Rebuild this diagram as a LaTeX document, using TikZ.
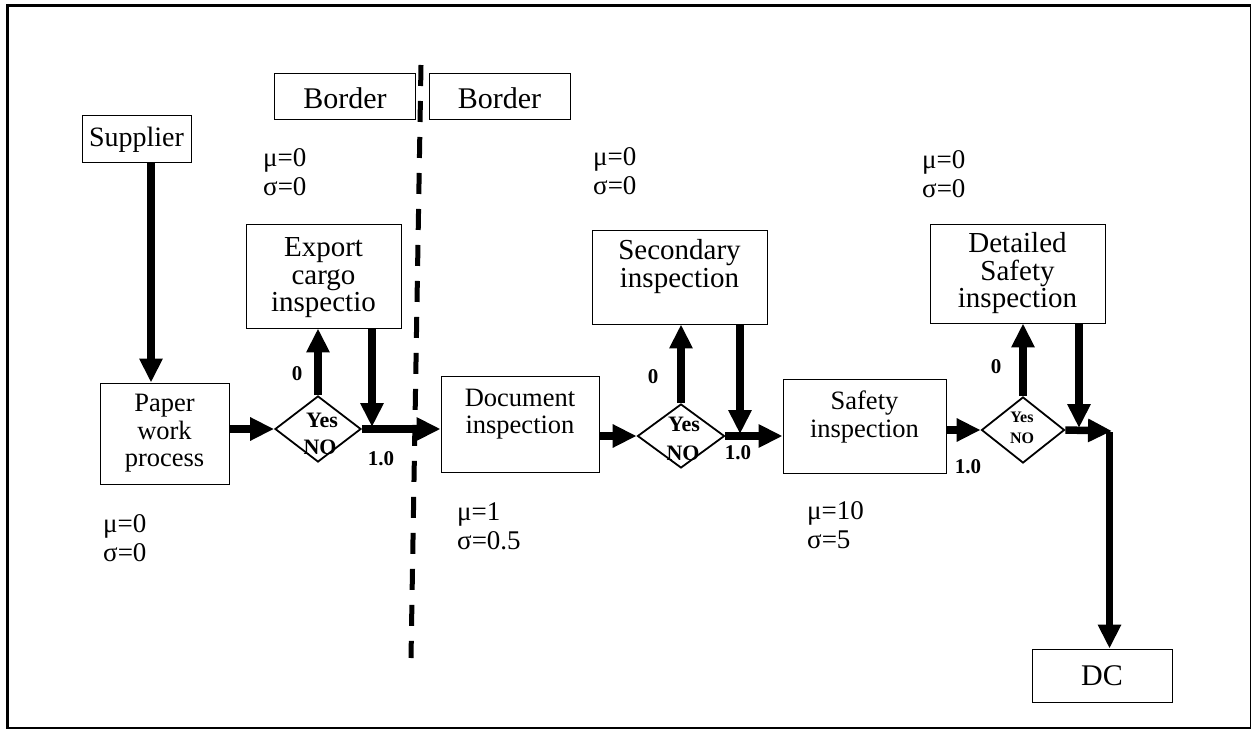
\documentclass[tikz,border=0pt]{standalone}
\usepackage{fontspec}
\setmainfont{Liberation Serif}
\usetikzlibrary{arrows.meta,shapes.geometric}
\begin{document}
\begin{tikzpicture}[x=1pt,y=-1pt,
  box/.style={draw, line width=0.9pt, inner sep=0pt},
  txt/.style={align=center, font=\fontsize{29}{27.5}\selectfont, inner sep=0pt},
  txtsmall/.style={align=center, font=\fontsize{26.5}{27.5}\selectfont, inner sep=0pt},
  txtmid/.style={align=center, font=\fontsize{28}{28}\selectfont, inner sep=0pt},
  txtbig/.style={align=center, font=\fontsize{30}{30}\selectfont, inner sep=0pt},
  stat/.style={align=left, anchor=west, font=\fontsize{27}{29}\selectfont, inner sep=0pt},
  gate/.style={draw, diamond, line width=1.8pt, inner sep=0pt},
  flow/.style={line width=7.5pt, -{Triangle[length=24pt,width=22pt]}},
  prob/.style={font=\bfseries\fontsize{21}{21}\selectfont, inner sep=0pt},
  yn/.style={font=\bfseries\fontsize{22}{22}\selectfont, inner sep=0pt},
  ynsmall/.style={font=\bfseries\fontsize{16}{16}\selectfont, inner sep=0pt},
  divider/.style={line width=5pt, dash pattern=on 21pt off 15pt}]
\useasboundingbox (0,0) rectangle (1253,730);

% outer frame
\draw[line width=1.3pt] (7,6) rectangle (1250.5,728);
\draw[line width=3pt] (7,728) -- (7,6) -- (1250.5,6);

% process boxes
\node[box, minimum width=109pt, minimum height=47pt] (supplier) at (136.5,138.5) {};
\node[box, minimum width=141pt, minimum height=46pt] (borderL) at (345,96) {};
\node[box, minimum width=141pt, minimum height=46pt] (borderR) at (499.5,96) {};
\node[box, minimum width=155pt, minimum height=104pt] (export) at (323.5,276) {};
\node[box, minimum width=129pt, minimum height=101pt] (paper) at (164.5,433.5) {};
\node[box, minimum width=158pt, minimum height=96pt] (doc) at (520,424) {};
\node[box, minimum width=175pt, minimum height=94pt] (secondary) at (679.5,277) {};
\node[box, minimum width=163pt, minimum height=94pt] (safety) at (864.5,426) {};
\node[box, minimum width=175pt, minimum height=99pt] (detailed) at (1017.5,273.5) {};
\node[box, minimum width=140pt, minimum height=53pt] (dc) at (1102,675.5) {};

% box texts
\node[txtmid] (supplierT) at ([yshift=-1.5pt]supplier.center) {Supplier};
\node[txtbig] (borderLT) at ([yshift=-2pt]borderL.center) {Border};
\node[txtbig] (borderRT) at ([yshift=-2pt]borderR.center) {Border};
\node[txt] (exportT) at ([yshift=-2pt]export.center) {Export\\cargo\\inspectio};
\node[txtsmall] (paperT) at (paper.center) {Paper\\work\\process};
\node[txtsmall] (docT) at ([yshift=10pt]doc.center) {Document\\inspection};
\node[txt] (secondaryT) at ([yshift=10.5pt]secondary.center) {Secondary\\inspection};
\node[txtsmall] (safetyT) at ([yshift=9pt]safety.center) {Safety\\inspection};
\node[txt] (detailedT) at (detailed.center) {Detailed\\Safety\\inspection};
\node[txtbig] (dcT) at (dc.center) {DC};

% decision diamonds
\node[gate, minimum width=86pt, minimum height=66pt] (d1) at (318,429) {};
\node[gate, minimum width=87pt, minimum height=64pt] (d2) at (681,436) {};
\node[gate, minimum width=83pt, minimum height=66pt] (d3) at (1023,430) {};
\node[yn] (d1yes) at (322,420) {Yes};
\node[yn] (d1no) at (320,447) {NO};
\node[yn] (d2yes) at (684,424) {Yes};
\node[yn] (d2no) at (683,453) {NO};
\node[ynsmall] (d3yes) at (1022,417) {Yes};
\node[ynsmall] (d3no) at (1022,438) {NO};

% branch probabilities
\node[prob] (p1a) at (297,374) {0};
\node[prob] (p1b) at (381,459) {1.0};
\node[prob] (p2a) at (653,377) {0};
\node[prob] (p2b) at (738,453) {1.0};
\node[prob] (p3a) at (996,367) {0};
\node[prob] (p3b) at (968,467) {1.0};

% time parameters
\node[stat] (sPaper) at (103,538) {μ=0\\σ=0};
\node[stat] (sExport) at (263,172) {μ=0\\σ=0};
\node[stat] (sDoc) at (457,526) {μ=1\\σ=0.5};
\node[stat] (sSecondary) at (593,171) {μ=0\\σ=0};
\node[stat] (sSafety) at (807,525) {μ=10\\σ=5};
\node[stat] (sDetailed) at (922,174) {μ=0\\σ=0};

% border line
\coordinate (divtop) at (421,65);
\coordinate (divbot) at (411,658);
\draw[divider] (divtop) -- (divbot);

% flow arrows
\draw[flow] ([xshift=14.5pt]supplier.south) -- ([xshift=-13.5pt]paper.north);
\draw[flow] (paper.east |- d1.west) -- (d1.west);
\draw[flow] (d1.north) -- (d1.north |- export.south);
\draw[flow] ([xshift=48.5pt]export.south) -- ([xshift=48.5pt, yshift=2pt]export.south |- d1.east);
\draw[flow] (d1.east) -- (d1.east -| doc.west);
\draw[flow] (doc.east |- d2.west) -- (d2.west);
\draw[flow] (d2.north) -- (d2.north |- secondary.south);
\draw[flow] ([xshift=60.5pt]secondary.south) -- ([xshift=60.5pt, yshift=2pt]secondary.south |- d2.east);
\draw[flow] (d2.east) -- (d2.east -| safety.west);
\draw[flow] (safety.east |- d3.west) -- (d3.west);
\draw[flow] (d3.north) -- (d3.north |- detailed.south);
\draw[flow] ([xshift=61.5pt]detailed.south) -- ([xshift=61.5pt, yshift=2pt]detailed.south |- d3.east);
\coordinate (turn) at (1112,431);
\draw[flow] (d3.east) -- (turn);
\draw[flow] ([xshift=-2.5pt, yshift=-1pt]turn) -- ([xshift=-2.5pt]turn |- dc.north);
\end{tikzpicture}
\end{document}
